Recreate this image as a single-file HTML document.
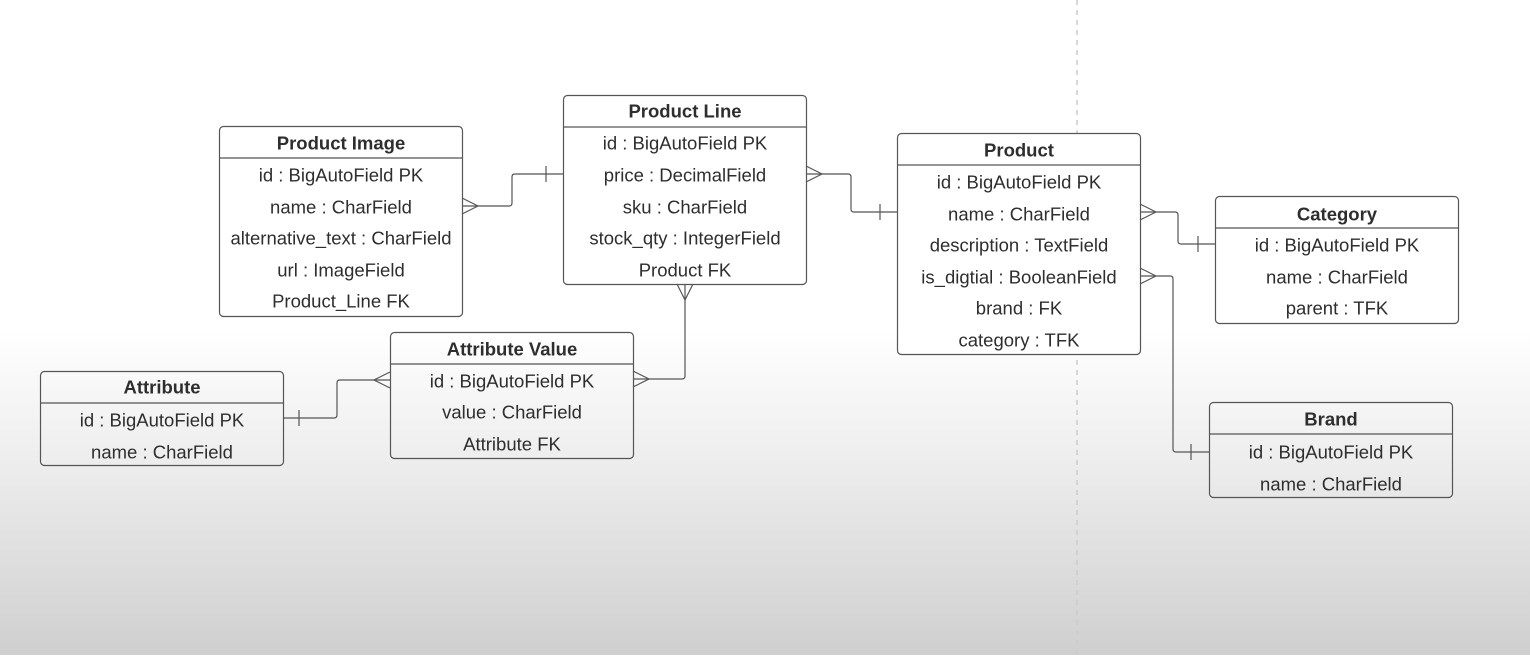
<!DOCTYPE html>
<html><head><meta charset="utf-8"><style>
html,body{margin:0;padding:0}
body{width:1530px;height:655px;overflow:hidden;background:linear-gradient(to bottom,#fff 0px,#fff 330px,#ececec 470px,#cfcfcf 655px);font-family:"Liberation Sans",sans-serif}
svg text{font-family:"Liberation Sans",sans-serif;fill:#2e2e2e;font-size:18.5px;text-anchor:middle;dominant-baseline:central}
svg text.t{font-weight:bold}
</style></head><body>
<svg width="1530" height="655" viewBox="0 0 1530 655">
<line x1="1077" y1="0" x2="1077" y2="655" stroke="#cccccc" stroke-width="1.5" stroke-dasharray="5,5"/>
<rect x="897.5" y="133.5" width="243" height="221" rx="4" fill="#fff"/>
<g fill="none" stroke="#555" stroke-width="1.2">
<rect x="219.5" y="126.5" width="243" height="190" rx="4"/><line x1="219.5" y1="158" x2="462.5" y2="158"/>
<rect x="563.5" y="95.5" width="243" height="189" rx="4"/><line x1="563.5" y1="127" x2="806.5" y2="127"/>
<rect x="897.5" y="133.5" width="243" height="221" rx="4"/><line x1="897.5" y1="165" x2="1140.5" y2="165"/>
<rect x="1215.5" y="196.5" width="243" height="127" rx="4"/><line x1="1215.5" y1="228" x2="1458.5" y2="228"/>
<rect x="1209.5" y="402.5" width="243" height="95" rx="4"/><line x1="1209.5" y1="434" x2="1452.5" y2="434"/>
<rect x="40.5" y="371.5" width="243" height="94" rx="4"/><line x1="40.5" y1="403" x2="283.5" y2="403"/>
<rect x="390.5" y="332.5" width="243" height="126" rx="4"/><line x1="390.5" y1="364" x2="633.5" y2="364"/>
<path d="M462 206 H509 Q512 206 512 203 V177 Q512 174 515 174 H563"/>
<path d="M462 198 L478 206 L462 214"/><line x1="546" y1="166" x2="546" y2="182"/>
<path d="M806 174 H848 Q851 174 851 177 V209 Q851 212 854 212 H897"/>
<path d="M806 166 L822 174 L806 182"/><line x1="880" y1="204" x2="880" y2="220"/>
<path d="M685 284 V376 Q685 379 682 379 H633"/>
<path d="M677 284 L685 300 L693 284"/><path d="M633 371 L649 379 L633 387"/>
<path d="M390 380 H340 Q337 380 337 383 V415 Q337 418 334 418 H283"/>
<path d="M390 372 L374 380 L390 388"/><line x1="299" y1="410" x2="299" y2="426"/>
<path d="M1140 212 H1175 Q1178 212 1178 215 V241 Q1178 244 1181 244 H1215"/>
<path d="M1140 204 L1156 212 L1140 220"/><line x1="1198" y1="236" x2="1198" y2="252"/>
<path d="M1140 276 H1170 Q1173 276 1173 279 V449 Q1173 452 1176 452 H1209"/>
<path d="M1140 268 L1156 276 L1140 284"/><line x1="1191" y1="444" x2="1191" y2="460"/>
</g>
<text class="t" x="341" y="143">Product Image</text>
<text x="341" y="175">id : BigAutoField PK</text>
<text x="341" y="207">name : CharField</text>
<text x="341" y="238">alternative_text : CharField</text>
<text x="341" y="270">url : ImageField</text>
<text x="341" y="301">Product_Line FK</text>

<text class="t" x="685" y="111">Product Line</text>
<text x="685" y="143">id : BigAutoField PK</text>
<text x="685" y="175">price : DecimalField</text>
<text x="685" y="207">sku : CharField</text>
<text x="685" y="238">stock_qty : IntegerField</text>
<text x="685" y="270">Product FK</text>

<text class="t" x="1019" y="150">Product</text>
<text x="1019" y="182">id : BigAutoField PK</text>
<text x="1019" y="214">name : CharField</text>
<text x="1019" y="245">description : TextField</text>
<text x="1019" y="277">is_digtial : BooleanField</text>
<text x="1019" y="308">brand : FK</text>
<text x="1019" y="340">category : TFK</text>

<text class="t" x="1337" y="214">Category</text>
<text x="1337" y="245">id : BigAutoField PK</text>
<text x="1337" y="277">name : CharField</text>
<text x="1337" y="308">parent : TFK</text>

<text class="t" x="1331" y="419">Brand</text>
<text x="1331" y="452">id : BigAutoField PK</text>
<text x="1331" y="484">name : CharField</text>

<text class="t" x="162" y="387">Attribute</text>
<text x="162" y="420">id : BigAutoField PK</text>
<text x="162" y="452">name : CharField</text>

<text class="t" x="512" y="349">Attribute Value</text>
<text x="512" y="381">id : BigAutoField PK</text>
<text x="512" y="412">value : CharField</text>
<text x="512" y="444">Attribute FK</text>
</svg>
</body></html>
